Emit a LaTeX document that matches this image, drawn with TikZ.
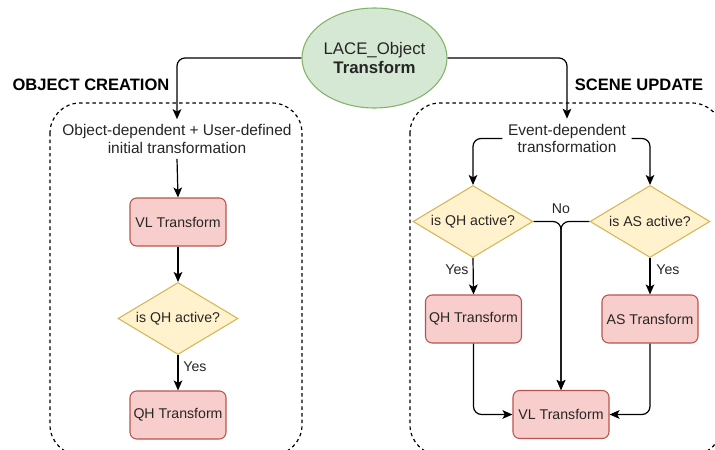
\documentclass[tikz,border=0pt]{standalone}
\usepackage{fontspec}
\setmainfont{Liberation Sans}
\usetikzlibrary{shapes.geometric,arrows.meta}

\definecolor{startfill}{HTML}{D5E8D4}
\definecolor{startline}{HTML}{82B366}
\definecolor{procfill}{HTML}{F8CECC}
\definecolor{procline}{HTML}{B85450}
\definecolor{decfill}{HTML}{FFF2CC}
\definecolor{decline}{HTML}{D6B656}
\definecolor{txt}{HTML}{262626}

\tikzset{
  base/.style={text=txt, font=\fontsize{10.6}{12.5}\selectfont, align=center},
  startnode/.style={base, ellipse, draw=startline, fill=startfill, line width=0.8pt,
    minimum width=108.75pt, minimum height=75pt, inner sep=0pt,
    font=\fontsize{12.6}{14.5}\selectfont},
  proc/.style={base, rectangle, rounded corners=5pt, draw=procline, fill=procfill,
    line width=0.8pt, minimum width=72pt, minimum height=36pt, inner sep=0pt},
  decision/.style={base, diamond, shape aspect=1.65, draw=decline, fill=decfill,
    line width=0.8pt, minimum width=90pt, minimum height=54pt, inner sep=0pt},
  plain/.style={base, inner sep=4pt, font=\fontsize{11.6}{12.8}\selectfont},
  heading/.style={font=\bfseries\fontsize{12.4}{14}\selectfont, text=black, inner sep=0pt},
  lbl/.style={base, inner sep=0pt},
  group/.style={draw=black, line width=0.9pt, dash pattern=on 2.6pt off 2.4pt,
    rounded corners=22.5pt},
  flow/.style={draw=black, line width=0.9pt, rounded corners=6pt,
    -{Stealth[length=7.5pt, width=6.5pt, inset=1.8pt]}}
}

\begin{document}
\begin{tikzpicture}[x=0.75pt, y=-0.75pt]
\useasboundingbox (0,0) rectangle (715,450);
\clip (0,0) rectangle (715,450);

% dashed groups
\draw[group] (50,103) rectangle (302,455);
\draw[group] (410,103) rectangle (722,455);

% headings
\node[heading] (octitle) at (91,85) {OBJECT CREATION};
\node[heading] (sutitle) at (639,85) {SCENE UPDATE};

% root
\node[startnode] (start) at (374.5,58) {LACE\_Object\\\textbf{Transform}};

% object creation column
\node[plain] (init) at (177,139) {Object-dependent + User-defined\\initial transformation};
\node[proc] (vl1) at (178,222) {VL Transform};
\node[decision] (qh1) at (178,318.5) {is QH active?};
\node[proc] (qht1) at (178,415) {QH Transform};

% scene update column
\node[plain] (event) at (567,138.5) {Event-dependent\\transformation};
\node[decision] (qh2) at (473,221.5) {is QH active?};
\node[decision] (as2) at (650,221.5) {is AS active?};
\node[proc] (qht2) at (473.5,319) {QH Transform};
\node[proc] (ast) at (650,319) {AS Transform};
\node[proc] (vl2) at (561,414.5) {VL Transform};

% connectors
\draw[flow] (start.west) -| (init.north);
\draw[flow] (start.east) -| (event.north);

\draw[flow] (init.south) -- (vl1.north);
\draw[flow] (vl1.south) -- (qh1.north);
\draw[flow] (qh1.south) -- (qht1.north);

\draw[flow] (event.west) -| (qh2.north);
\draw[flow] (event.east) -| (as2.north);
\draw[flow] (qh2.south) -- (qht2.north);
\draw[flow] (as2.south) -- (ast.north);
\draw[flow] (qh2.east) -| (vl2.north);
\draw[flow] (as2.west) -| (vl2.north);
\draw[flow] (qht2.south) |- (vl2.west);
\draw[flow] (ast.south) |- (vl2.east);

% edge labels
\node[lbl] (yes1) at (195,367) {Yes};
\node[lbl] (yes2) at (457,270) {Yes};
\node[lbl] (yes3) at (668,270) {Yes};
\node[lbl] (no) at (561,209) {No};
\end{tikzpicture}
\end{document}
